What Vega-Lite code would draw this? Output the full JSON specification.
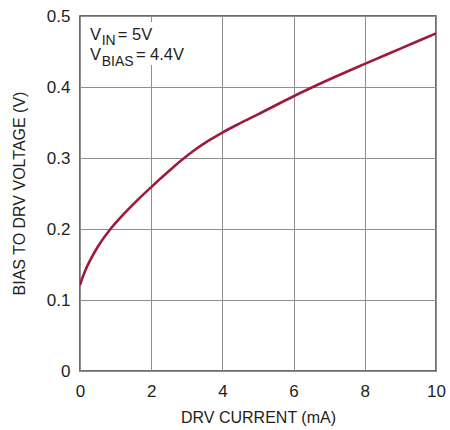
{
  "$schema": "https://vega.github.io/schema/vega-lite/v6.json",
  "width": 356,
  "height": 355,
  "autosize": {"type": "none"},
  "padding": {"left": 80, "top": 16, "right": 14, "bottom": 59},
  "background": "white",
  "config": {
    "view": {"stroke": "#3c3c3c", "strokeWidth": 1.5},
    "axis": {
      "grid": true,
      "gridColor": "#8f8f8f",
      "gridWidth": 1,
      "domain": false,
      "ticks": false,
      "labelFont": "Liberation Sans",
      "labelFontSize": 17,
      "labelColor": "#231f20",
      "titleFont": "Liberation Sans",
      "titleFontSize": 16,
      "titleFontWeight": "normal",
      "titleColor": "#231f20"
    },
    "axisX": {"labelPadding": 12, "titleX": 178, "titleY": 51, "titleBaseline": "alphabetic", "titleAlign": "center", "labelFlush": false},
    "axisY": {"labelPadding": 10, "titleX": -56, "titleY": 177, "titleBaseline": "alphabetic", "titleAngle": -90, "titleAlign": "center"}
  },
  "datasets": {
    "curve": [
      {"x": 0, "y": 0.121},
      {"x": 0.07, "y": 0.1315},
      {"x": 0.15, "y": 0.1417},
      {"x": 0.28, "y": 0.1555},
      {"x": 0.5, "y": 0.175},
      {"x": 0.84, "y": 0.199},
      {"x": 1.2, "y": 0.2195},
      {"x": 1.6, "y": 0.240},
      {"x": 2.0, "y": 0.259},
      {"x": 2.5, "y": 0.2816},
      {"x": 2.85, "y": 0.2967},
      {"x": 3.2, "y": 0.3105},
      {"x": 3.6, "y": 0.3241},
      {"x": 4.0, "y": 0.3359},
      {"x": 4.5, "y": 0.349},
      {"x": 5.0, "y": 0.3615},
      {"x": 6.0, "y": 0.387},
      {"x": 7.0, "y": 0.4105},
      {"x": 8.0, "y": 0.4325},
      {"x": 9.0, "y": 0.454},
      {"x": 10.0, "y": 0.4755}
    ],
    "box": [{"x": 0.04, "x2": 3.0, "y": 0.431, "y2": 0.4915}],
    "main": [
      {"x": 0.281, "y": 0.4662, "t": "V"},
      {"x": 1.06, "y": 0.4662, "t": "= 5V"},
      {"x": 0.281, "y": 0.438, "t": "V"},
      {"x": 1.57, "y": 0.438, "t": "= 4.4V"}
    ],
    "sub": [
      {"x": 0.61, "y": 0.4592, "t": "IN"},
      {"x": 0.61, "y": 0.430, "t": "BIAS"}
    ]
  },
  "layer": [
    {
      "data": {"name": "box"},
      "mark": {"type": "rect", "fill": "white", "stroke": null},
      "encoding": {
        "x": {"field": "x", "type": "quantitative", "title": "DRV CURRENT (mA)", "scale": {"domain": [0, 10]}, "axis": {"values": [0, 2, 4, 6, 8, 10]}},
        "x2": {"field": "x2"},
        "y": {"field": "y", "type": "quantitative", "title": "BIAS TO DRV VOLTAGE (V)", "scale": {"domain": [0, 0.5]}, "axis": {"values": [0, 0.1, 0.2, 0.3, 0.4, 0.5], "format": "~g"}},
        "y2": {"field": "y2"}
      }
    },
    {
      "data": {"name": "curve"},
      "mark": {"type": "line", "color": "#9e1a3c", "strokeWidth": 2.6, "interpolate": "monotone", "clip": true},
      "encoding": {
        "x": {"field": "x", "type": "quantitative", "title": "DRV CURRENT (mA)"},
        "y": {"field": "y", "type": "quantitative", "title": "BIAS TO DRV VOLTAGE (V)"}
      }
    },
    {
      "data": {"name": "main"},
      "mark": {"type": "text", "align": "left", "baseline": "alphabetic", "font": "Liberation Sans", "fontSize": 16.5, "color": "#231f20"},
      "encoding": {
        "x": {"field": "x", "type": "quantitative", "title": "DRV CURRENT (mA)"},
        "y": {"field": "y", "type": "quantitative", "title": "BIAS TO DRV VOLTAGE (V)"},
        "text": {"field": "t"}
      }
    },
    {
      "data": {"name": "sub"},
      "mark": {"type": "text", "align": "left", "baseline": "alphabetic", "font": "Liberation Sans", "fontSize": 14, "color": "#231f20"},
      "encoding": {
        "x": {"field": "x", "type": "quantitative", "title": "DRV CURRENT (mA)"},
        "y": {"field": "y", "type": "quantitative", "title": "BIAS TO DRV VOLTAGE (V)"},
        "text": {"field": "t"}
      }
    }
  ]
}
